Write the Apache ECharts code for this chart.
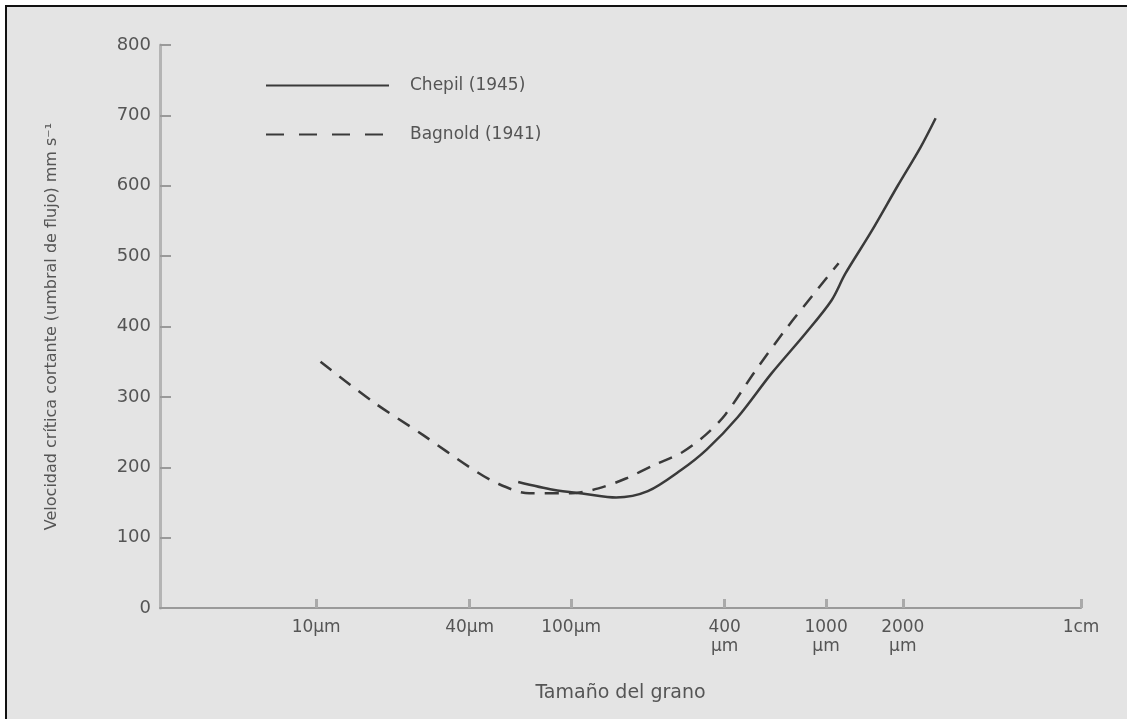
<!DOCTYPE html>
<html>
<head>
<meta charset="utf-8">
<title>Velocidad crítica cortante</title>
<script src="https://cdn.jsdelivr.net/npm/echarts@6/dist/echarts.min.js"></script>
<style>
    html, body { margin: 0; padding: 0; background: #fff; width: 1127px; height: 719px; overflow: hidden; }
    #frame { position: absolute; left: 5px; top: 5px; right: 0; bottom: 0; background: #e4e4e4;
             border-left: 2px solid #111; border-top: 2px solid #111; }
    #chart { position: absolute; left: 0; top: 0; width: 1127px; height: 719px; }
</style>
</head>
<body>
<div id="frame"></div>
<div id="chart"></div>
<script>
// grain sizes in micrometres, velocities in mm/s
var chepilSize = [62, 85, 114, 150, 200, 270, 340, 450, 610, 830, 1050, 1190, 1500, 1910, 2350, 2690];
var chepilVel = [179, 168, 162, 157, 166, 196, 225, 271, 333, 390, 437, 475, 534, 600, 655, 696];

var bagnoldSize = [10.4, 16.7, 26.2, 40, 51.4, 68.5, 100, 128, 164, 211, 272, 337, 403, 528, 698, 931, 1120];
var bagnoldVel = [350, 293, 246, 200, 177, 163, 163, 170, 184, 203, 221, 246, 275, 337, 397, 454, 490];

var tickSizes = [10, 40, 100, 400, 1000, 2000, 10000];
var tickLabels = ['10µm', '40µm', '100µm', '400\nµm', '1000\nµm', '2000\nµm', '1cm'];

var font = 'DejaVu Sans';
var ink = '#3a3a3a';

function toPoints(sizes, vels) {
    var out = [];
    for (var i = 0; i < sizes.length; i++) {
        out.push([Math.log10(sizes[i]), vels[i]]);
    }
    return out;
}

var tickPos = tickSizes.map(function (s) { return Math.log10(s); });

var myChart = echarts.init(document.getElementById('chart'), null, { renderer: 'canvas' });

var option = {
    backgroundColor: 'transparent',
    animation: false,
    grid: { left: 160, right: 46, top: 45, bottom: 111 },
    legend: {
        orient: 'vertical',
        left: 260,
        top: 72,
        itemWidth: 123,
        itemHeight: 14,
        itemGap: 32,
        itemStyle: { opacity: 0 },
        textStyle: { color: '#555', fontSize: 17, fontFamily: font, padding: [0, 0, 0, 16] },
        data: [
            { name: 'Chepil (1945)' },
            { name: 'Bagnold (1941)', lineStyle: { type: [18, 15] } }
        ]
    },
    xAxis: {
        type: 'value',
        min: Math.log10(2.44),
        max: 4,
        name: 'Tamaño del grano',
        nameLocation: 'middle',
        nameGap: 76,
        nameTextStyle: { color: '#555', fontSize: 19, fontFamily: font },
        axisLine: { lineStyle: { color: '#9a9a9a', width: 2 } },
        axisTick: { inside: true, length: 9, lineStyle: { color: '#aaa', width: 3 }, customValues: tickPos },
        axisLabel: {
            customValues: tickPos,
            color: '#555',
            fontSize: 17,
            fontFamily: font,
            lineHeight: 19,
            margin: 10,
            formatter: function (val) {
                for (var i = 0; i < tickPos.length; i++) {
                    if (Math.abs(tickPos[i] - val) < 1e-6) return tickLabels[i];
                }
                return '';
            }
        },
        splitLine: { show: false }
    },
    yAxis: {
        type: 'value',
        min: 0,
        max: 800,
        interval: 100,
        name: 'Velocidad crítica cortante (umbral de flujo) mm s⁻¹',
        nameLocation: 'middle',
        nameGap: 100,
        nameTextStyle: { color: '#555', fontSize: 16, fontFamily: font },
        axisLine: { show: true, lineStyle: { color: '#b4b4b4', width: 3 } },
        axisTick: { show: true, inside: true, length: 11, lineStyle: { color: '#9a9a9a', width: 2 } },
        axisLabel: { color: '#555', fontSize: 18, fontFamily: font, margin: 9 },
        splitLine: { show: false }
    },
    series: [
        {
            name: 'Chepil (1945)',
            type: 'line',
            smooth: 0.3,
            symbol: 'none',
            lineStyle: { color: ink, width: 2.5 },
            itemStyle: { color: ink },
            data: toPoints(chepilSize, chepilVel)
        },
        {
            name: 'Bagnold (1941)',
            type: 'line',
            smooth: 0.3,
            symbol: 'none',
            lineStyle: { color: ink, width: 2.5, type: [14, 10] },
            itemStyle: { color: ink },
            data: toPoints(bagnoldSize, bagnoldVel)
        }
    ]
};

myChart.setOption(option);
</script>
</body>
</html>
